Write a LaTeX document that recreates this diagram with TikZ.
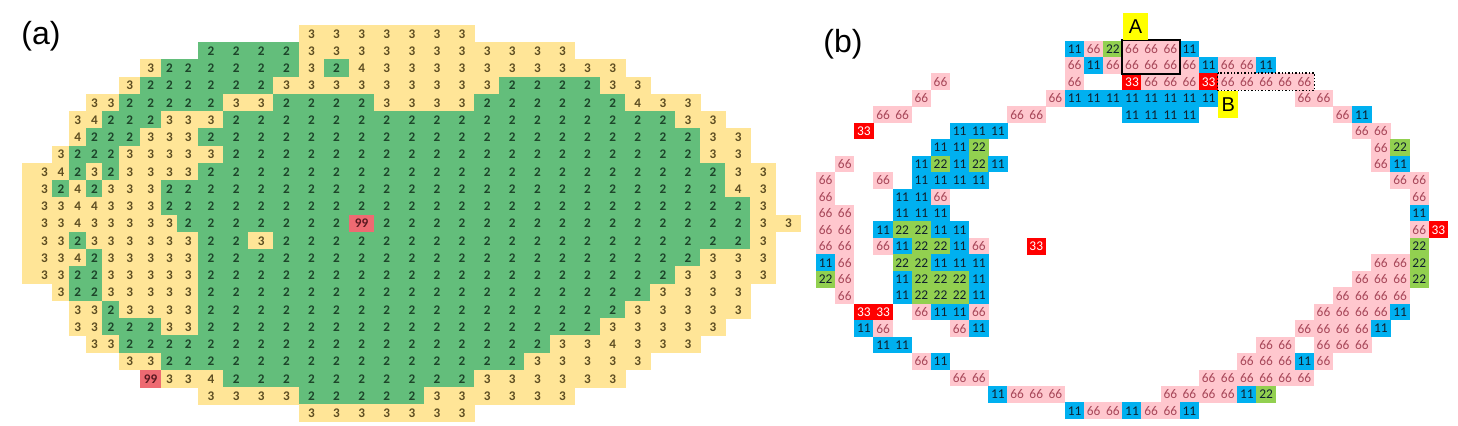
\documentclass[tikz,border=0pt]{standalone}
\usepackage{fontspec}
\usepackage{xcolor}
\usepackage{tikz}
\newfontfamily\cellfont{Carlito}
\newfontfamily\labelfont{Liberation Sans}
\definecolor{agreen}{HTML}{63BE7B}
\definecolor{ayellow}{HTML}{FFE597}
\definecolor{ared}{HTML}{EE6A72}
\definecolor{agreentxt}{HTML}{1D452A}
\definecolor{ayellowtxt}{HTML}{5E4E22}
\definecolor{aredtxt}{HTML}{5A1820}
\definecolor{bpink}{HTML}{FFC7CE}
\definecolor{bpinktxt}{HTML}{A8485A}
\definecolor{bblue}{HTML}{00B0F0}
\definecolor{bgreen}{HTML}{92D050}
\definecolor{bred}{HTML}{FF0000}
\definecolor{bdarktxt}{HTML}{10202E}
\definecolor{tagyellow}{HTML}{FFFF00}
% left and right edge of a column of grid (a)
\newcommand\acolbounds[1]{%
  \ifnum#1<10
    \pgfmathsetmacro\xl{{22,36,52.7,69.3,86,102.7,119.3,140.2,161,177.7,198.5}[#1]}%
    \pgfmathsetmacro\xr{{22,36,52.7,69.3,86,102.7,119.3,140.2,161,177.7,198.5}[#1+1]}%
  \else
    \pgfmathsetmacro\xl{198.5+25.1*(#1-10)}%
    \pgfmathsetmacro\xr{\xl+25.1}%
  \fi}

\begin{document}
\begin{tikzpicture}[x=0.5pt,y=-0.5pt,
    acell/.style={inner sep=0pt, minimum height=8.9pt,
      font={\cellfont\fontsize{6.6}{7}\selectfont\bfseries}},
    acellg/.style={acell, fill=agreen, text=agreentxt, node contents=2},
    acelly/.style={acell, fill=ayellow, text=ayellowtxt, node contents=3},
    acellf/.style={acell, fill=ayellow, text=ayellowtxt, node contents=4},
    acelle/.style={acell, fill=ayellow, node contents={}},
    acellr/.style={acell, fill=ared, text=aredtxt, node contents=99},
    bcell/.style={inner sep=0pt, minimum width=9.7pt, minimum height=8.35pt,
      font={\cellfont\fontsize{6.7}{7}\selectfont}},
    bcell11/.style={bcell, fill=bblue, text=bdarktxt},
    bcell22/.style={bcell, fill=bgreen, text=bdarktxt},
    bcell33/.style={bcell, fill=bred, text=white},
    bcell66/.style={bcell, fill=bpink, text=bpinktxt},
    panel/.style={inner sep=0pt, font={\labelfont\fontsize{16}{19}\selectfont}},
    tag/.style={inner sep=0pt, fill=tagyellow, font={\labelfont\fontsize{10}{12}\selectfont}}]
  \useasboundingbox (0,0) rectangle (1458,426);

  % (a): runs of cells, first column/last column/code
  \foreach \row/\runs in {
      0/{14/20/y},
      1/{10/13/g,14/24/y},
      2/{7/7/y,8/13/g,14/14/y,15/15/g,16/16/f,17/26/y},
      3/{6/6/y,7/12/g,13/21/y,22/25/g,26/27/y},
      4/{4/5/y,6/10/g,11/12/y,13/16/g,17/20/y,21/26/g,27/27/f,28/29/y},
      5/{3/3/y,4/4/f,5/7/g,8/10/y,11/28/g,29/30/y},
      6/{3/3/f,4/6/g,7/9/y,10/29/g,30/31/y},
      7/{2/2/y,3/5/g,6/10/y,11/29/g,30/31/y},
      8/{0/0/e,1/1/y,2/2/f,3/3/g,4/4/y,5/5/g,6/9/y,10/30/g,31/32/y},
      9/{0/0/e,1/1/y,2/2/g,3/3/f,4/4/g,5/7/y,8/30/g,31/31/f,32/32/y},
      10/{0/0/e,1/2/y,3/4/f,5/7/y,8/31/g,32/32/y},
      11/{0/0/e,1/2/y,3/3/f,4/8/y,9/15/g,16/16/r,17/31/g,32/33/y},
      12/{0/0/e,1/2/y,3/3/g,4/9/y,10/11/g,12/12/y,13/31/g,32/32/y},
      13/{0/0/e,1/2/y,3/3/f,4/4/g,5/9/y,10/29/g,30/32/y},
      14/{0/0/e,1/2/y,3/4/g,5/9/y,10/28/g,29/32/y},
      15/{2/2/y,3/4/g,5/9/y,10/27/g,28/31/y},
      16/{3/4/y,5/5/g,6/9/y,10/26/g,27/31/y},
      17/{3/4/y,5/7/g,8/9/y,10/25/g,26/30/y},
      18/{4/5/y,6/23/g,24/25/y,26/26/f,27/29/y},
      19/{6/7/y,8/22/g,23/27/y},
      20/{7/7/r,8/9/y,10/10/f,11/20/g,21/26/y},
      21/{10/13/y,14/18/g,19/24/y},
      22/{14/20/y}}{
    \foreach \ca/\cb/\code in \runs{
      \foreach \col in {\ca,...,\cb}{
        \acolbounds{\col}
        \node (a\row-\col) at ({(\xl+\xr)/2},{33.8+17.25*\row})
          [acell\code, minimum width={(\xr-\xl)*0.5pt+0.4pt}];
      }
    }
  }

  % (b): runs of cells, first column/last column/value
  \foreach \row/\runs in {
      0/{13/13/11,14/14/66,15/15/22,16/18/66,19/19/11},
      1/{13/13/66,14/14/11,15/19/66,20/20/11,21/22/66,23/23/11},
      2/{6/6/66,13/13/66,16/16/33,17/19/66,20/20/33,21/25/66},
      3/{5/5/66,12/12/66,13/20/11,25/26/66},
      4/{3/4/66,10/11/66,16/19/11,27/27/66,28/28/11},
      5/{2/2/33,7/9/11,28/29/66},
      6/{6/7/11,8/8/22,29/29/66,30/30/22},
      7/{1/1/66,5/5/11,6/6/22,7/7/11,8/8/22,9/9/11,29/29/66,30/30/11},
      8/{0/0/66,3/3/66,5/8/11,30/31/66},
      9/{0/0/66,4/5/11,6/6/66,31/31/66},
      10/{0/1/66,4/6/11,31/31/11},
      11/{0/1/66,3/3/11,4/5/22,6/7/11,31/31/66,32/32/33},
      12/{0/1/66,3/3/66,4/4/11,5/6/22,7/7/11,8/8/66,11/11/33,31/31/22},
      13/{0/0/11,1/1/66,4/5/22,6/8/11,29/30/66,31/31/22},
      14/{0/0/22,1/1/66,4/4/11,5/7/22,8/8/11,28/30/66,31/31/22},
      15/{1/1/66,4/4/11,5/7/22,8/8/11,27/30/66},
      16/{2/3/33,5/5/66,6/7/11,8/8/66,26/29/66,30/30/11},
      17/{2/2/11,3/3/66,7/7/66,8/8/11,25/28/66,29/29/11},
      18/{3/4/11,23/24/66,26/28/66},
      19/{5/5/66,6/6/11,22/24/66,25/25/11,26/26/66},
      20/{7/8/66,20/25/66},
      21/{9/9/11,10/12/66,18/21/66,22/22/11,23/23/22},
      22/{13/13/11,14/15/66,16/16/11,17/18/66,19/19/11}}{
    \foreach \ca/\cb/\val in \runs{
      \foreach \col in {\ca,...,\cb}{
        \node (b\row-\col) at ({825.6+19.15*\col},{48.9+16.45*\row}) [bcell\val] {\val};
      }
    }
  }

  \draw [line width=1pt] (b0-16.north west) rectangle (b1-18.south east);
  \draw [line width=0.7pt, densely dotted] (b2-21.north west) rectangle (b2-25.south east);
  \node [tag, minimum width=12.5pt, minimum height=13.5pt] (tagA) at (1135.5,26.5) {A};
  \node [tag, minimum width=10pt, minimum height=13.8pt] (tagB) at (1228.3,104.5) {B};

  \node [panel] (labela) at (41,36) {(a)};
  \node [panel] (labelb) at (843,44) {(b)};
\end{tikzpicture}
\end{document}
